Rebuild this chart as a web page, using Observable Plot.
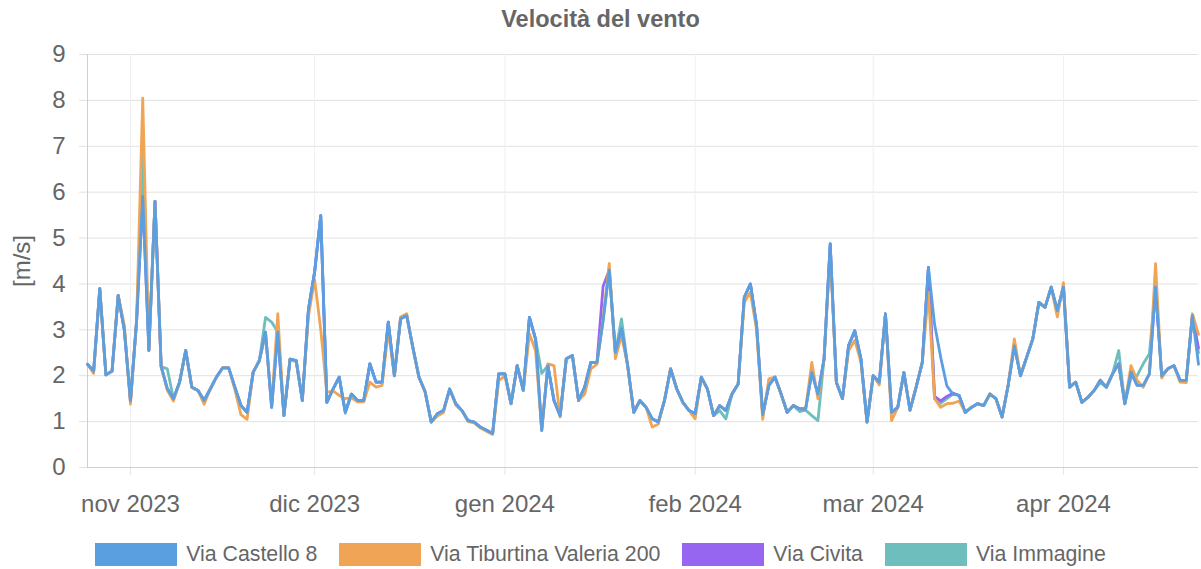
<!DOCTYPE html>
<html>
<head>
<meta charset="utf-8">
<script src="https://cdn.jsdelivr.net/npm/d3@7"></script>
<script src="https://cdn.jsdelivr.net/npm/@observablehq/plot@0.6"></script>
<style>
  html, body { margin: 0; padding: 0; background: #fff; }
  body { width: 1201px; height: 569px; overflow: hidden; font-family: "Liberation Sans", Arial, sans-serif; color: #666; }
  #title { height: 36px; line-height: 38px; text-align: center; font-weight: bold; font-size: 23.5px; color: #666; }
  #chart svg { display: block; }
  #legend { display: flex; justify-content: center; align-items: center; padding-top: 12px; font-size: 21.3px; line-height: 24px; color: #666; }
  .item { display: flex; align-items: center; margin: 0 11px; }
  .sw { width: 80px; height: 21px; border-width: 1px; border-style: solid; margin-right: 9px; }
</style>
</head>
<body>
<div id="title">Velocità del vento</div>
<div id="chart"></div>
<div id="legend"></div>
<script>
// ---- Data ----
const startDate = "2023-10-25"; // first daily sample
const seriesNames = ["Via Castello 8", "Via Tiburtina Valeria 200", "Via Civita", "Via Immagine"];
const seriesColors = ["#5aa0e0", "#f0a456", "#9666f0", "#6ebebe"];
const yTicks = [0, 1, 2, 3, 4, 5, 6, 7, 8, 9];
const monthTickDates = ["2023-11-01", "2023-12-01", "2024-01-01", "2024-02-01", "2024-03-01", "2024-04-01"];
const monthLabels = ["nov 2023", "dic 2023", "gen 2024", "feb 2024", "mar 2024", "apr 2024"];

const castello = [
  2.25, 2.1, 3.9, 2.02, 2.1, 3.75, 3.0, 1.45, 3.2, 5.9,
  2.55, 5.8, 2.2, 1.72, 1.5, 1.86, 2.55, 1.75, 1.68, 1.46,
  1.71, 1.97, 2.17, 2.17, 1.75, 1.35, 1.2, 2.08, 2.33, 2.95,
  1.31, 2.95, 1.13, 2.36, 2.33, 1.46, 3.45, 4.26, 5.49, 1.42,
  1.71, 1.97, 1.21, 1.6, 1.46, 1.46, 2.26, 1.86, 1.86, 3.17,
  2.0, 3.24, 3.31, 2.62, 1.97, 1.65, 0.99, 1.17, 1.24, 1.71,
  1.39, 1.24, 1.02, 0.99, 0.88, 0.81, 0.74, 2.04, 2.04, 1.39,
  2.22, 1.68, 3.27, 2.8, 0.81, 2.22, 1.46, 1.13, 2.37, 2.44,
  1.46, 1.75, 2.29, 2.29, 3.2, 4.3, 2.51, 3.02, 2.22, 1.2,
  1.46, 1.31, 1.06, 0.99, 1.46, 2.15, 1.71, 1.42, 1.24, 1.17,
  1.97, 1.71, 1.13, 1.35, 1.24, 1.6, 1.82, 3.71, 4.0, 3.1,
  1.15, 1.79, 1.97, 1.6, 1.2, 1.35, 1.28, 1.28, 2.07, 1.6,
  2.37, 4.87, 1.86, 1.5, 2.66, 2.98, 2.37, 0.99, 2.0, 1.86,
  3.35, 1.2, 1.31, 2.07, 1.25, 1.75, 2.29, 4.36, 3.12, 2.4,
  1.78, 1.6, 1.57, 1.2, 1.31, 1.39, 1.35, 1.6, 1.5, 1.1,
  1.8, 2.65, 2.0, 2.4, 2.8, 3.6, 3.49, 3.93, 3.42, 3.93,
  1.75, 1.86, 1.42, 1.53, 1.68, 1.9, 1.75, 2.04, 2.26, 1.39,
  2.08, 1.79, 1.79, 2.04, 3.93, 2.0, 2.15, 2.22, 1.9, 1.9,
  3.31, 2.25
];

const tiburtina = [
  2.25, 2.05, 3.9, 2.02, 2.1, 3.75, 3.1, 1.38, 3.2, 8.05,
  2.55, 5.8, 2.2, 1.68, 1.45, 1.86, 2.55, 1.75, 1.68, 1.38,
  1.71, 1.97, 2.17, 2.17, 1.7, 1.15, 1.05, 2.08, 2.33, 2.9,
  1.35, 3.35, 1.13, 2.36, 2.3, 1.5, 3.3, 4.1, 3.0, 1.64,
  1.67, 1.57, 1.5, 1.52, 1.43, 1.43, 1.86, 1.75, 1.79, 2.99,
  2.0, 3.28, 3.35, 2.6, 1.97, 1.65, 0.99, 1.12, 1.2, 1.71,
  1.36, 1.24, 1.0, 0.97, 0.86, 0.79, 0.72, 1.89, 2.0, 1.39,
  2.22, 1.68, 2.91, 2.55, 0.81, 2.26, 2.22, 1.1, 2.37, 2.44,
  1.46, 1.6, 2.15, 2.25, 3.25, 4.45, 2.37, 2.88, 2.22, 1.2,
  1.46, 1.31, 0.88, 0.95, 1.46, 2.15, 1.71, 1.42, 1.24, 1.06,
  1.97, 1.71, 1.13, 1.35, 1.24, 1.6, 1.82, 3.6, 3.82, 3.0,
  1.05, 1.93, 1.97, 1.6, 1.2, 1.35, 1.28, 1.28, 2.29, 1.5,
  2.37, 4.7, 1.86, 1.5, 2.55, 2.77, 2.3, 0.99, 2.0, 1.8,
  3.35, 1.02, 1.31, 2.07, 1.25, 1.75, 2.29, 3.82, 1.5, 1.31,
  1.39, 1.4, 1.45, 1.2, 1.31, 1.39, 1.35, 1.6, 1.5, 1.1,
  1.8, 2.8, 2.0, 2.4, 2.8, 3.6, 3.49, 3.93, 3.28, 4.03,
  1.75, 1.86, 1.42, 1.53, 1.68, 1.9, 1.75, 2.04, 2.26, 1.39,
  2.22, 1.9, 1.75, 2.04, 4.44, 1.95, 2.15, 2.22, 1.86, 1.85,
  3.35, 2.9
];

const civita = [
  2.25, 2.1, 3.9, 2.02, 2.1, 3.75, 3.0, 1.45, 3.2, 5.9,
  2.55, 5.8, 2.2, 1.72, 1.5, 1.86, 2.55, 1.75, 1.68, 1.46,
  1.71, 1.97, 2.17, 2.17, 1.75, 1.35, 1.2, 2.08, 2.33, 2.95,
  1.31, 2.95, 1.13, 2.36, 2.33, 1.46, 3.45, 4.26, 5.49, 1.42,
  1.71, 1.97, 1.21, 1.6, 1.46, 1.46, 2.26, 1.86, 1.86, 3.17,
  2.0, 3.24, 3.31, 2.62, 1.97, 1.65, 0.99, 1.17, 1.24, 1.71,
  1.39, 1.24, 1.02, 0.99, 0.88, 0.81, 0.74, 2.04, 2.04, 1.39,
  2.22, 1.68, 3.27, 2.8, 0.81, 2.22, 1.46, 1.13, 2.37, 2.44,
  1.46, 1.75, 2.29, 2.29, 3.95, 4.3, 2.51, 3.02, 2.22, 1.2,
  1.46, 1.31, 1.06, 0.99, 1.46, 2.15, 1.71, 1.42, 1.24, 1.17,
  1.97, 1.71, 1.13, 1.35, 1.24, 1.6, 1.82, 3.71, 4.0, 3.1,
  1.15, 1.79, 1.97, 1.6, 1.2, 1.35, 1.28, 1.28, 2.07, 1.6,
  2.37, 4.87, 1.86, 1.5, 2.66, 2.98, 2.37, 0.99, 2.0, 1.86,
  3.35, 1.2, 1.31, 2.07, 1.25, 1.75, 2.29, 4.36, 1.55, 1.45,
  1.55, 1.62, 1.57, 1.2, 1.31, 1.39, 1.35, 1.6, 1.5, 1.1,
  1.8, 2.65, 2.0, 2.4, 2.8, 3.6, 3.49, 3.93, 3.42, 3.93,
  1.75, 1.86, 1.42, 1.53, 1.68, 1.9, 1.75, 2.04, 2.26, 1.39,
  2.08, 1.79, 1.79, 2.04, 3.93, 2.0, 2.15, 2.22, 1.9, 1.9,
  3.31, 2.6
];

const immagine = [
  2.25, 2.1, 3.9, 2.02, 2.1, 3.75, 3.0, 1.45, 3.2, 6.8,
  2.55, 5.8, 2.2, 2.15, 1.5, 1.86, 2.55, 1.75, 1.68, 1.46,
  1.71, 1.97, 2.17, 2.17, 1.75, 1.35, 1.2, 2.08, 2.33, 3.27,
  3.17, 2.95, 1.13, 2.36, 2.33, 1.46, 3.45, 4.26, 5.49, 1.42,
  1.71, 1.97, 1.18, 1.6, 1.46, 1.46, 2.26, 1.86, 1.86, 3.17,
  2.0, 3.24, 3.31, 2.62, 1.97, 1.65, 0.99, 1.17, 1.24, 1.71,
  1.39, 1.24, 1.02, 0.99, 0.88, 0.81, 0.74, 2.04, 2.04, 1.39,
  2.22, 1.68, 3.27, 2.8, 2.05, 2.22, 1.46, 1.13, 2.37, 2.44,
  1.46, 1.75, 2.29, 2.29, 3.2, 4.3, 2.51, 3.24, 2.22, 1.2,
  1.46, 1.31, 1.06, 0.99, 1.46, 2.15, 1.71, 1.42, 1.24, 1.17,
  1.97, 1.71, 1.13, 1.24, 1.06, 1.6, 1.82, 3.71, 4.0, 3.1,
  1.15, 1.79, 1.97, 1.6, 1.2, 1.35, 1.22, 1.25, 1.13, 1.02,
  2.37, 4.87, 1.86, 1.5, 2.66, 2.98, 2.37, 0.99, 2.0, 1.86,
  3.35, 1.2, 1.31, 2.07, 1.25, 1.75, 2.29, 4.36, 1.5, 1.4,
  1.5, 1.6, 1.57, 1.2, 1.31, 1.39, 1.35, 1.6, 1.5, 1.1,
  1.8, 2.65, 2.0, 2.4, 2.8, 3.6, 3.49, 3.93, 3.42, 3.93,
  1.75, 1.86, 1.42, 1.53, 1.68, 1.85, 1.75, 2.04, 2.55, 1.39,
  1.95, 2.0, 2.26, 2.48, 3.93, 2.0, 2.15, 2.22, 1.9, 1.9,
  3.31, 2.5
];

const seriesValues = [castello, tiburtina, civita, immagine];

// ---- Build table ----
const start = new Date(startDate + "T00:00:00Z");
const dates = d3.utcDay.range(start, d3.utcDay.offset(start, castello.length));
const monthTicks = monthTickDates.map(s => new Date(s + "T00:00:00Z"));
const drawOrder = [3, 2, 1, 0]; // last dataset drawn first, first on top
const rows = [];
for (const si of drawOrder) {
  seriesValues[si].forEach((v, i) => rows.push({date: dates[i], value: v, series: seriesNames[si]}));
}

const fontFamily = '"Liberation Sans", Arial, sans-serif';

const chart = Plot.plot({
  width: 1201,
  height: 494,
  marginLeft: 87,
  marginRight: 3,
  marginTop: 18,
  marginBottom: 63,
  style: {fontFamily, fontSize: "24px", color: "#666", background: "#fff", overflow: "visible"},
  x: {type: "utc", domain: [dates[0], dates[dates.length - 1]]},
  y: {domain: [0, 9]},
  color: {domain: seriesNames, range: seriesColors},
  marks: [
    Plot.gridY(yTicks, {stroke: "#e1e1e1", strokeOpacity: 1}),
    Plot.gridX(monthTicks, {stroke: "#efefef", strokeOpacity: 1}),
    Plot.axisY(yTicks, {
      tickSize: 8, tickPadding: 14, stroke: "#e1e1e1", strokeOpacity: 1,
      label: "[m/s]", labelAnchor: "center", labelArrow: "none", labelOffset: 75
    }),
    Plot.axisX(monthTicks, {
      tickSize: 8, tickPadding: 19, stroke: "#e6e6e6", strokeOpacity: 1,
      tickFormat: d => monthLabels[monthTicks.findIndex(t => +t === +d)], label: null
    }),
    Plot.ruleY([0], {stroke: "#cfcfcf"}),
    Plot.ruleX([dates[0]], {stroke: "#cfcfcf"}),
    Plot.lineY(rows, {x: "date", y: "value", z: "series", stroke: "series", strokeWidth: 2.8, strokeLinejoin: "round"})
  ]
});
document.getElementById("chart").appendChild(chart);

// ---- Legend ----
const legend = document.getElementById("legend");
seriesNames.forEach((name, i) => {
  const item = document.createElement("div");
  item.className = "item";
  const sw = document.createElement("div");
  sw.className = "sw";
  sw.style.background = seriesColors[i];
  sw.style.borderColor = seriesColors[i];
  const label = document.createElement("span");
  label.textContent = name;
  item.appendChild(sw);
  item.appendChild(label);
  legend.appendChild(item);
});
</script>
</body>
</html>
